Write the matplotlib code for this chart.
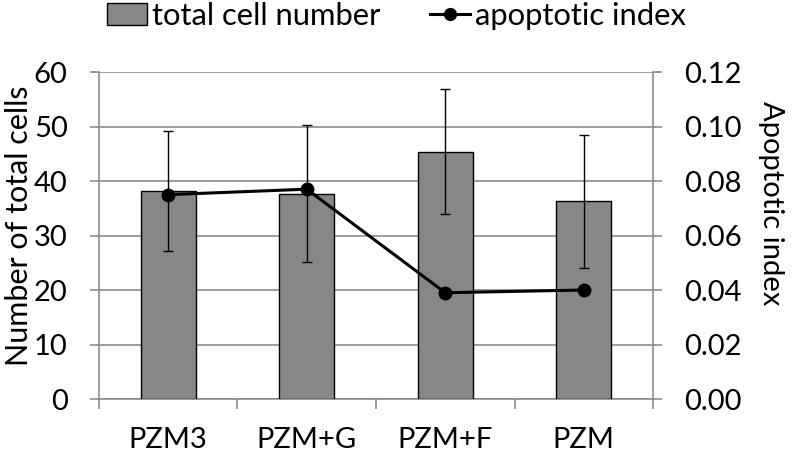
import matplotlib
matplotlib.use("Agg")
import matplotlib.pyplot as plt
import numpy as np
from matplotlib.lines import Line2D
from matplotlib.patches import Patch

# data
groups = ["PZM3", "PZM+G", "PZM+F", "PZM"]
cell_number = [38.2, 37.7, 45.4, 36.3]
cell_err = [11.0, 12.6, 11.5, 12.2]
apoptotic_index = [0.075, 0.077, 0.039, 0.040]

plt.rcParams['font.family'] = ['Lato', 'DejaVu Sans']
grid_col = "#8c8c8c"

fig = plt.figure(figsize=(7.93, 4.54), dpi=100)
ax = fig.add_axes([0.1248, 0.1211, 0.6987, 0.7203])
x = np.arange(len(groups))

ax.bar(x, cell_number, width=0.4, color="#878787", edgecolor="black", linewidth=1, zorder=3)
ax.errorbar(x, cell_number, yerr=cell_err, fmt="none", ecolor="black", elinewidth=1,
            capsize=3.3, capthick=1, zorder=4)
ax.set_xlim(-0.5, 3.5)
ax.set_ylim(0, 60)
ax.set_yticks(range(0, 61, 10))
ax.yaxis.grid(True, color=grid_col, linewidth=1.2, zorder=0)
ax.set_axisbelow(True)
ax.set_xticks(x)
ax.set_xticklabels(groups, fontsize=21)
ax.set_xticks(np.arange(-0.5, 4.0, 1.0), minor=True)
ax.tick_params(axis="x", which="major", length=0, pad=20.5)
ax.tick_params(axis="x", which="minor", length=7, color=grid_col, width=1.2)
ax.tick_params(axis="y", length=6.5, color=grid_col, width=1.2, labelsize=21, pad=16)
ax.set_ylabel("Number of total cells", fontsize=22, va="center")
ax.yaxis.set_label_coords(-0.1444, 0.53)
for s in ["left", "bottom", "right"]:
    ax.spines[s].set_color(grid_col)
    ax.spines[s].set_linewidth(1.2)
ax.spines["top"].set_visible(False)

ax2 = ax.twinx()
ax2.plot(x, apoptotic_index, color="black", linewidth=2.2, marker="o", markersize=9, zorder=5)
ax2.set_ylim(0, 0.12)
ax2.set_yticks(np.arange(0, 0.121, 0.02))
ax2.set_yticklabels(["%.2f" % v for v in np.arange(0, 0.121, 0.02)])
ax2.tick_params(axis="y", length=6.5, color=grid_col, width=1.2, labelsize=21, pad=16)
ax2.set_ylabel("Apoptotic index", fontsize=21, rotation=270, va="center")
ax2.yaxis.set_label_coords(1.213, 0.60)
for s in ["left", "bottom", "right", "top"]:
    ax2.spines[s].set_visible(False)

handles = [Patch(facecolor="#878787", edgecolor="black", linewidth=1),
           Line2D([0], [0], color="black", linewidth=2.2, marker="o", markersize=8.5)]
fig.legend(handles, ["total cell number", "apoptotic index"], loc="center",
           bbox_to_anchor=(0.5, 0.965), ncol=2, frameon=False, fontsize=22.3,
           handlelength=1.3, handletextpad=0.17, columnspacing=1.6)

fig.savefig("out.png", dpi=100)
